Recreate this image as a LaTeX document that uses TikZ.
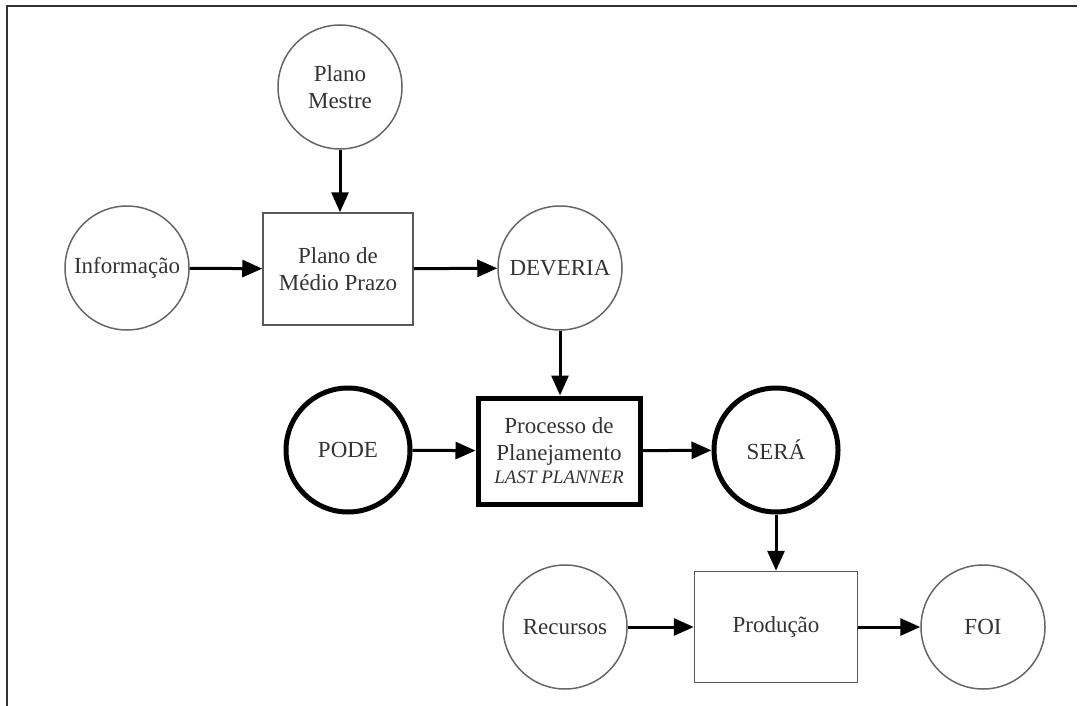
\documentclass[tikz,border=0pt]{standalone}
\usepackage{fontspec}
\setmainfont{Liberation Serif}
\usetikzlibrary{arrows.meta}
\begin{document}
\begin{tikzpicture}[x=1pt,y=-1pt,
  every node/.style={font=\fontsize{23}{27}\selectfont, text=black!80},
  thincirc/.style={circle, draw=black!60, line width=1.5pt, minimum size=124pt, inner sep=0pt, align=center},
  thickcirc/.style={circle, draw=black, line width=5pt, minimum size=124pt, inner sep=0pt, align=center},
  thinbox/.style={rectangle, draw=black!65, line width=1.5pt, align=center, inner sep=0pt},
  thickbox/.style={rectangle, draw=black, line width=5pt, align=center, inner sep=0pt},
  flow/.style={-{Triangle[length=20pt,width=17pt]}, line width=3pt, draw=black}
]
\useasboundingbox (0,0) rectangle (1081,706);

% outer frame (top and left edges)
\draw[line width=2pt, black!80] (7,706) -- (7,6) -- (1077,6);

% first rows: master plan and medium-term plan
\node[thincirc] (mestre) at (340,87) {Plano\\Mestre};
\node[thincirc] (info) at (127,268) {Informação};
\node[thinbox, minimum width=150pt, minimum height=112pt] (medio) at (338,269) {Plano de\\Médio Prazo};
\node[thincirc] (deveria) at (560,268) {DEVERIA};

% last planner row
\node[thickcirc] (pode) at (348,450) {PODE};
\node[thickbox, minimum width=162pt, minimum height=106pt] (lp) at (559,451)
  {Processo de\\Planejamento\\[-4pt]{\fontsize{19}{22}\selectfont\itshape LAST PLANNER}};
\node[thickcirc] (sera) at (776,450) {SERÁ};

% production row
\node[thincirc] (recursos) at (565,627) {Recursos};
\node[thinbox, minimum width=163pt, minimum height=111pt] (prod) at (776,627) {Produção};
\node[thincirc] (foi) at (983,627) {FOI};

% flows
\draw[flow] (mestre) -- (mestre |- medio.north);
\draw[flow] (info) -- (medio);
\draw[flow] (medio) -- (deveria);
\draw[flow] (deveria) -- (deveria |- lp.north);
\draw[flow] (pode) -- (lp);
\draw[flow] (lp) -- (sera);
\draw[flow] (sera) -- (sera |- prod.north);
\draw[flow] (recursos) -- (prod);
\draw[flow] (prod) -- (foi);
\end{tikzpicture}
\end{document}
